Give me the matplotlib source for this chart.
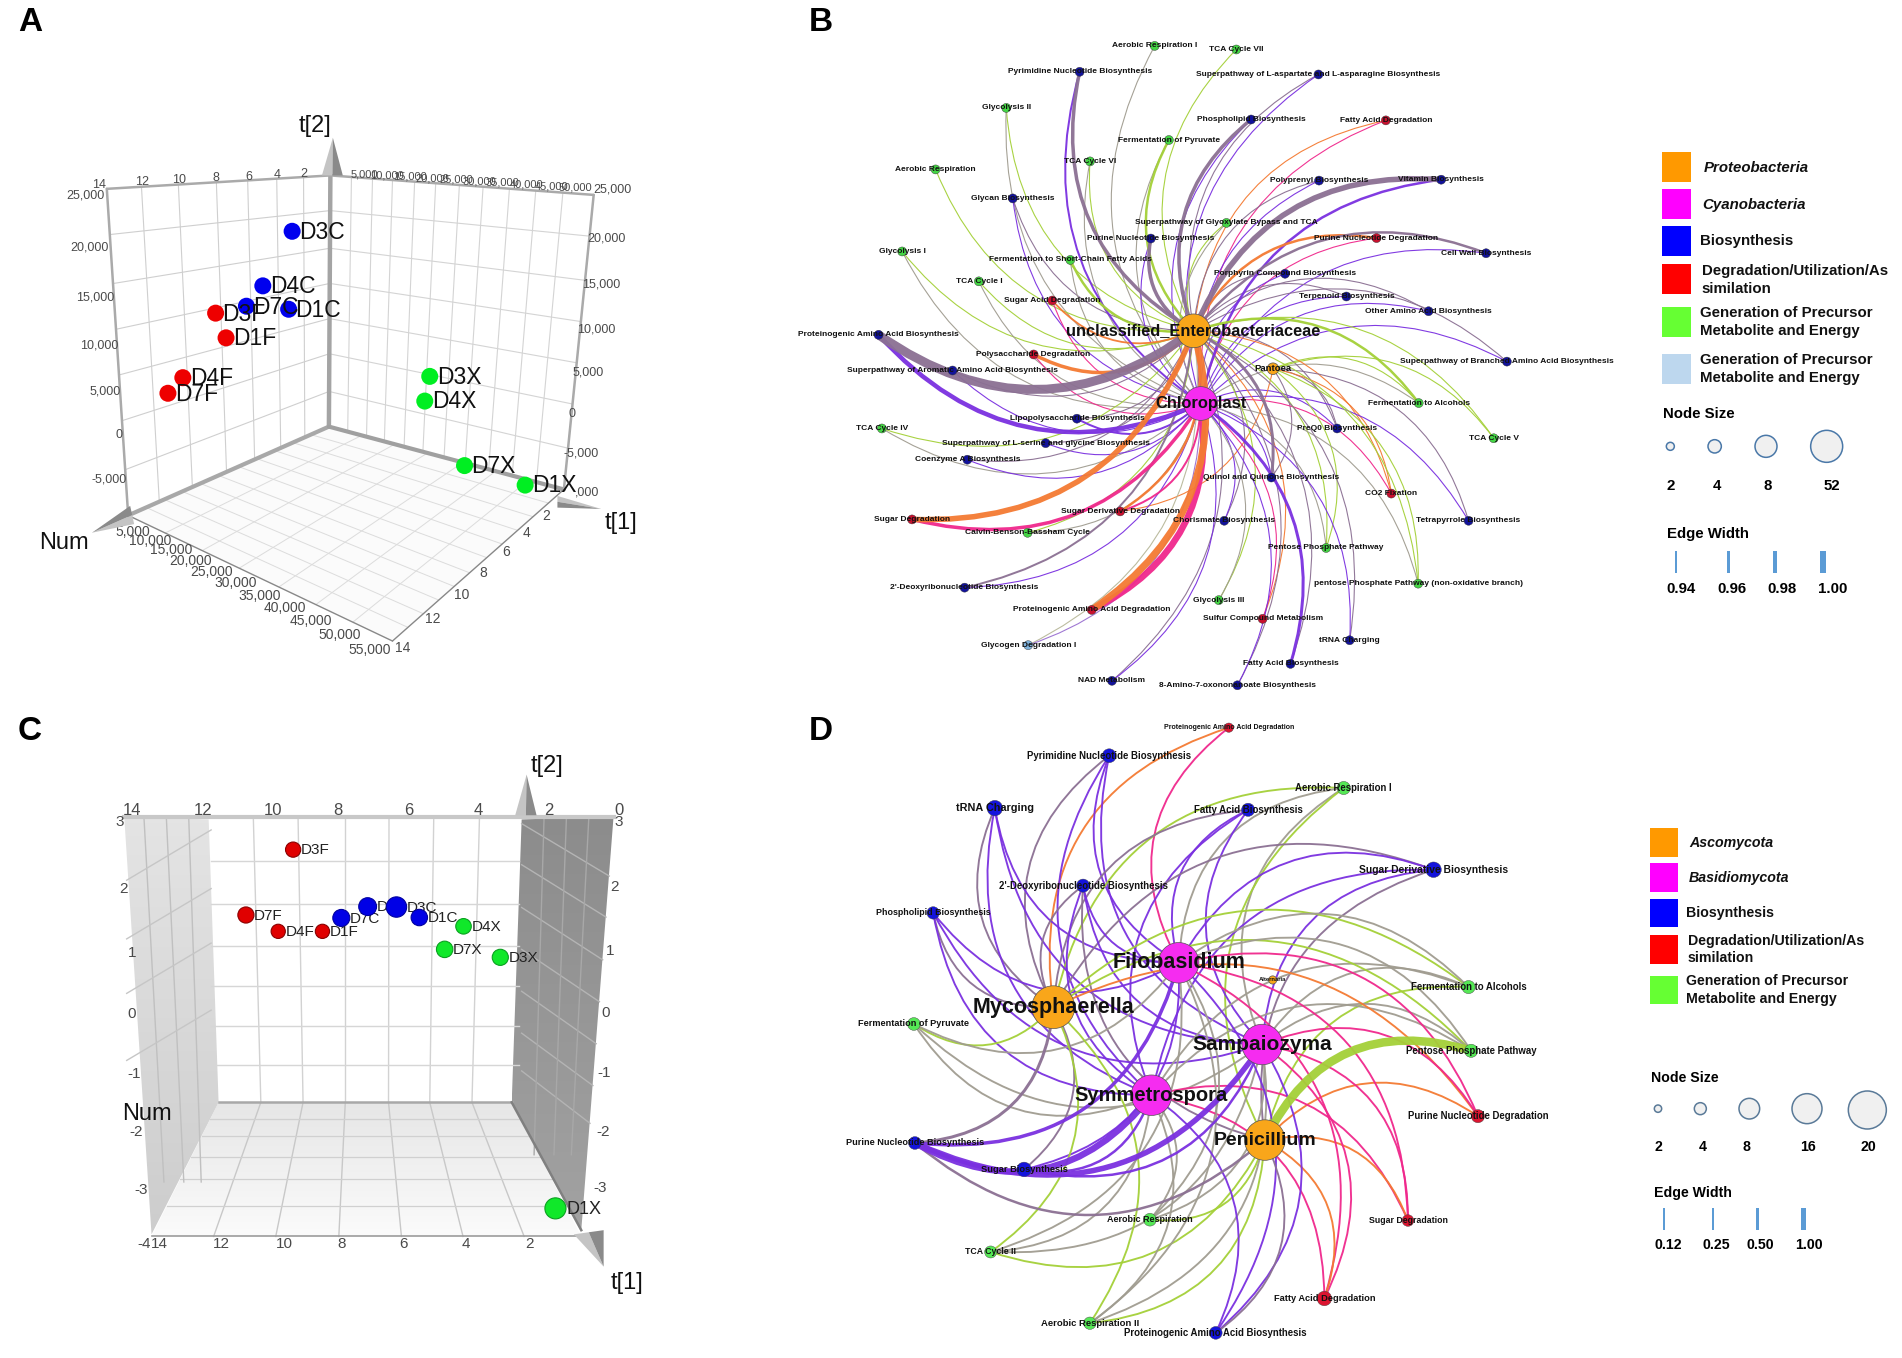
import matplotlib
matplotlib.use("Agg")
import matplotlib.pyplot as plt
import numpy as np
from matplotlib.patches import FancyArrowPatch, Polygon, Circle, Rectangle

plt.rcParams['font.family'] = ['Liberation Sans', 'DejaVu Sans']

W, H = 1902, 1358
COL = {'B': '#12129a', 'G': '#44d544', 'R': '#c8102e', 'L': '#7fb2dc', 'O': '#f9a61a', 'M': '#f52cf0'}

# ---------- score plot A ----------
a_names = ['D3C', 'D4C', 'D7C', 'D1C', 'D3F', 'D1F', 'D4F', 'D7F', 'D3X', 'D4X', 'D7X', 'D1X']
a_x = [588, 529, 496, 581, 434, 455, 368, 338, 865, 855, 935, 1057]
a_y = [534, 660, 707, 714, 723, 780, 872, 908, 869, 926, 1075, 1120]
a_col = ['#0000ee'] * 4 + ['#ee0000'] * 4 + ['#00ee22'] * 4
a_left_ticks = ['25,000', '20,000', '15,000', '10,000', '5,000', '0', '-5,000']
a_left_x = [172, 180, 192, 200, 212, 240, 220]
a_left_y = [452, 572, 688, 798, 905, 1005, 1108]
a_right_ticks = ['25,000', '20,000', '15,000', '10,000', '5,000', '0', '-5,000', ',000']
a_right_x = [1232, 1220, 1210, 1200, 1183, 1152, 1170, 1182]
a_right_y = [438, 550, 656, 760, 860, 957, 1048, 1138]
a_topl_ticks = ['14', '12', '10', '8', '6', '4', '2']
a_topl_x = [200, 285, 360, 435, 500, 558, 612]
a_topl_y = [427, 420, 416, 411, 408, 405, 402]
a_topr_ticks = ['5,000', '10,000', '15,000', '20,000', '25,000', '30,000', '35,000', '40,000', '45,000', '50,000']
a_topr_x = [733, 778, 826, 870, 918, 965, 1012, 1060, 1110, 1158]
a_topr_y = [402, 406, 408, 411, 414, 418, 421, 425, 430, 432]
a_botl_ticks = ['5,000', '10,000', '15,000', '20,000', '25,000', '30,000', '35,000', '40,000', '45,000', '50,000', '55,000']
a_botl_x = [268, 302, 345, 383, 426, 474, 522, 573, 625, 683, 745]
a_botl_y = [1228, 1249, 1270, 1296, 1320, 1346, 1375, 1403, 1433, 1465, 1500]
a_botr_ticks = ['2', '4', '6', '8', '10', '12', '14']
a_botr_x = [1100, 1060, 1018, 972, 930, 872, 810]
a_botr_y = [1192, 1230, 1274, 1322, 1373, 1430, 1495]

# ---------- score plot C ----------
c_lab = ['D3F', 'D7F', 'D4F', 'D1F', 'D7C', 'D', 'D3C', 'D1C', 'D4X', 'D7X', 'D3X', 'D1X']
c_x = [590, 495, 560, 649, 687, 740, 798, 844, 933, 895, 1007, 1118]
c_y = [357, 513, 552, 552, 520, 493, 494, 519, 540, 595, 614, 1213]
c_s = [120, 135, 105, 105, 150, 165, 215, 140, 125, 140, 135, 230]
c_col = ['#e00000'] * 4 + ['#0000e6'] * 4 + ['#10e82a'] * 4
c_edge = ['#8a0000'] * 4 + ['#0000a0'] * 4 + ['#0aa020'] * 4
c_top_ticks = ['14', '12', '10', '8', '6', '4', '2', '0']
c_top_x = [265, 408, 550, 680, 822, 962, 1105, 1245]
c_left_ticks = ['3', '2', '1', '0', '-1', '-2', '-3', '-4']
c_left_x = [240, 248, 265, 265, 270, 275, 285, 290]
c_left_y = [290, 450, 603, 750, 893, 1030, 1168, 1297]
c_right_ticks = ['3', '2', '1', '0', '-1', '-2', '-3']
c_right_x = [1245, 1237, 1228, 1220, 1217, 1213, 1208]
c_right_y = [290, 447, 600, 748, 890, 1030, 1165]
c_bot_ticks = ['14', '12', '10', '8', '6', '4', '2']
c_bot_x = [320, 445, 572, 688, 813, 938, 1065]

# ---------- network B ----------
b_hub_names = ['unclassified_Enterobacteriaceae', 'Chloroplast', 'Pantoea']
b_hub_keys = ['E', 'C', 'P']
b_hub_x = [755, 768, 900]
b_hub_y = [742, 905, 827]
b_hub_col = ['O', 'M', 'O']
b_hub_s = [590, 590, 70]
b_hub_fs = [11.8, 11.9, 6.8]
b_names = ['Aerobic Respiration I', 'TCA Cycle VII', 'Pyrimidine Nucleotide Biosynthesis',
           'Superpathway of L-aspartate and L-asparagine Biosynthesis', 'Glycolysis II',
           'Phospholipid Biosynthesis', 'Fatty Acid Degradation', 'Fermentation of Pyruvate', 'TCA Cycle VI',
           'Aerobic Respiration', 'Polyprenyl Biosynthesis', 'Vitamin Biosynthesis', 'Glycan Biosynthesis',
           'Superpathway of Glyoxylate Bypass and TCA', 'Purine Nucleotide Biosynthesis',
           'Purine Nucleotide Degradation', 'Cell Wall Biosynthesis', 'Glycolysis I',
           'Fermentation to Short-Chain Fatty Acids', 'Porphyrin Compound Biosynthesis', 'TCA Cycle I',
           'Terpenoid Biosynthesis', 'Sugar Acid Degradation', 'Other Amino Acid Biosynthesis',
           'Proteinogenic Amino Acid Biosynthesis', 'Polysaccharide Degradation',
           'Superpathway of Aromatic Amino Acid Biosynthesis', 'Superpathway of Branched Amino Acid Biosynthesis',
           'Fermentation to Alcohols', 'Lipopolysaccharide Biosynthesis', 'PreQ0 Biosynthesis', 'TCA Cycle IV',
           'TCA Cycle V', 'Superpathway of L-serine and glycine Biosynthesis', 'Coenzyme A Biosynthesis',
           'Quinol and Quinone Biosynthesis', 'CO2 Fixation', 'Sugar Degradation', 'Sugar Derivative Degradation',
           'Chorismate Biosynthesis', 'Tetrapyrrole Biosynthesis', 'Calvin-Benson-Bassham Cycle',
           'Pentose Phosphate Pathway', 'pentose Phosphate Pathway (non-oxidative branch)',
           "2'-Deoxyribonucleotide Biosynthesis", 'Proteinogenic Amino Acid Degradation', 'Glycolysis III',
           'Sulfur Compound Metabolism', 'tRNA Charging', 'Glycogen Degradation I', 'Fatty Acid Biosynthesis',
           'NAD Metabolism', '8-Amino-7-oxononanoate Biosynthesis']
b_x = [684, 833, 547, 983, 413, 860, 1106, 710, 566, 284, 984, 1207, 425, 815, 677, 1089, 1289, 223, 530, 922,
       363, 1034, 497, 1184, 180, 463, 315, 1327, 1166, 542, 1017, 186, 1303, 485, 342, 897, 1116, 241, 621, 811,
       1257, 452, 997, 1165, 337, 569, 801, 881, 1040, 453, 932, 606, 835]
b_y = [103, 111, 161, 167, 242, 268, 270, 314, 362, 380, 405, 403, 445, 500, 535, 534, 568, 564, 583, 614, 631,
       665, 674, 698, 751, 795, 831, 811, 904, 939, 961, 961, 983, 994, 1031, 1071, 1107, 1165, 1147, 1168, 1168,
       1195, 1229, 1309, 1318, 1368, 1346, 1388, 1436, 1447, 1489, 1527, 1537]
b_cat = list('GGBBGBRGGGBBBGBRBGGBGBRBBRBBGBBGGBBBRRRBBGGGBRGRBLBBB')
b_links = {'Aerobic Respiration I': 'C', 'TCA Cycle VII': 'E', 'Fatty Acid Degradation': 'EC', 'Aerobic Respiration': 'E',
           'Glycolysis II': 'EC', 'Quinol and Quinone Biosynthesis': 'ECP', 'Fermentation to Alcohols': 'ECP',
           'Sugar Derivative Degradation': 'ECP', 'CO2 Fixation': 'ECP', 'PreQ0 Biosynthesis': 'ECP',
           'pentose Phosphate Pathway (non-oxidative branch)': 'ECP', 'Pentose Phosphate Pathway': 'ECP',
           'TCA Cycle V': 'EP', 'Tetrapyrrole Biosynthesis': 'CP'}
b_thick = {('Proteinogenic Amino Acid Biosynthesis', 'E'): 9, ('Proteinogenic Amino Acid Biosynthesis', 'C'): 4.5,
           ('Sugar Degradation', 'E'): 5.5, ('Sugar Degradation', 'C'): 3.5,
           ('Proteinogenic Amino Acid Degradation', 'C'): 6.5, ('Proteinogenic Amino Acid Degradation', 'E'): 7,
           ('Vitamin Biosynthesis', 'E'): 5.5, ('Vitamin Biosynthesis', 'C'): 2.5,
           ('Pyrimidine Nucleotide Biosynthesis', 'E'): 3.5, ('Pyrimidine Nucleotide Biosynthesis', 'C'): 2,
           ('Phospholipid Biosynthesis', 'E'): 3.5, ('Fatty Acid Biosynthesis', 'C'): 3,
           ('Polysaccharide Degradation', 'E'): 3.5, ('Purine Nucleotide Biosynthesis', 'E'): 3.5,
           ('Quinol and Quinone Biosynthesis', 'E'): 3, ('Fermentation to Alcohols', 'E'): 2.5,
           ('Fermentation of Pyruvate', 'E'): 2.5, ('Cell Wall Biosynthesis', 'E'): 2.5,
           ('Purine Nucleotide Degradation', 'E'): 2.5, ("2'-Deoxyribonucleotide Biosynthesis", 'E'): 2,
           ('Sugar Derivative Degradation', 'E'): 2.5, ('Sugar Derivative Degradation', 'C'): 2,
           ('Fermentation to Short-Chain Fatty Acids', 'E'): 2.5, ('Lipopolysaccharide Biosynthesis', 'C'): 2,
           ('Sugar Acid Degradation', 'E'): 1.8}

# ---------- network D ----------
d_hub_names = ['Filobasidium', 'Mycosphaerella', 'Sampaiozyma', 'Symmetrospora', 'Penicillium', 'Alternaria']
d_hub_keys = ['F', 'M', 'S', 'Y', 'P', 'A']
d_hub_x = [725, 485, 885, 673, 890, 905]
d_hub_y = [627, 733, 822, 943, 1050, 668]
d_hub_col = ['M', 'O', 'M', 'M', 'O', 'O']
d_hub_s = [850, 950, 850, 850, 850, 35]
d_hub_fs = [15.5, 15.5, 15, 14.5, 14, 4.2]
d_names = ['Proteinogenic Amino Acid Degradation', 'Pyrimidine Nucleotide Biosynthesis', 'Aerobic Respiration I',
           'tRNA Charging', 'Fatty Acid Biosynthesis', 'Sugar Derivative Biosynthesis',
           "2'-Deoxyribonucleotide Biosynthesis", 'Phospholipid Biosynthesis', 'Fermentation to Alcohols',
           'Fermentation of Pyruvate', 'Pentose Phosphate Pathway', 'Purine Nucleotide Degradation',
           'Purine Nucleotide Biosynthesis', 'Sugar Biosynthesis', 'Sugar Degradation', 'Aerobic Respiration',
           'TCA Cycle II', 'Fatty Acid Degradation', 'Aerobic Respiration II', 'Proteinogenic Amino Acid Biosynthesis']
d_x = [821, 592, 1041, 373, 858, 1213, 542, 255, 1280, 218, 1285, 1298, 220, 429, 1164, 670, 365, 1004, 555, 796]
d_y = [66, 133, 210, 258, 262, 405, 443, 508, 685, 773, 837, 993, 1057, 1120, 1242, 1240, 1317, 1428, 1487, 1510]
d_cat = list('RBGBBBBBGGGRBBRGGRGB')
d_s = [45, 100, 90, 125, 90, 125, 90, 80, 90, 85, 90, 90, 85, 110, 70, 85, 75, 110, 80, 85]
d_fs = [5, 6.9, 6.9, 7.8, 6.9, 7.4, 6.9, 6.4, 6.9, 6.6, 6.9, 6.9, 6.6, 6.7, 6.3, 6.5, 6.3, 6.7, 6.8, 6.9]
d_links = {'Proteinogenic Amino Acid Degradation': 'FM', 'Pyrimidine Nucleotide Biosynthesis': 'FMYS',
           'Aerobic Respiration I': 'MFSP', 'tRNA Charging': 'FMYS', 'Fatty Acid Biosynthesis': 'FYSM',
           'Phospholipid Biosynthesis': 'FMYS', 'Fermentation of Pyruvate': 'MFYS',
           'Purine Nucleotide Degradation': 'MFSP', 'Sugar Biosynthesis': 'FSYM', 'Sugar Degradation': 'FSYP',
           'Aerobic Respiration': 'FSYP', 'Fatty Acid Degradation': 'FSYP',
           'Proteinogenic Amino Acid Biosynthesis': 'FSYP'}
d_thick = {('Pentose Phosphate Pathway', 'P'): 8.5, ('Purine Nucleotide Biosynthesis', 'Y'): 6.5,
           ('Purine Nucleotide Biosynthesis', 'S'): 5.5, ('Purine Nucleotide Biosynthesis', 'F'): 3.5,
           ('Purine Nucleotide Biosynthesis', 'M'): 3, ('Purine Nucleotide Biosynthesis', 'P'): 2.5,
           ('Sugar Biosynthesis', 'Y'): 2.5, ('Sugar Biosynthesis', 'S'): 2.5}

# ---------- legends ----------
lb_labels = [['Proteobacteria'], ['Cyanobacteria'], ['Biosynthesis'], ['Degradation/Utilization/As', 'similation'],
             ['Generation of Precursor', 'Metabolite and Energy'], ['Generation of Precursor', 'Metabolite and Energy']]
lb_cols = ['#ff9900', '#ff00ff', '#0000ff', '#ff0000', '#66ff33', '#bdd7ee']
lb_node = ['2', '4', '8', '52']
lb_edge = ['0.94', '0.96', '0.98', '1.00']
ld_labels = [['Ascomycota'], ['Basidiomycota'], ['Biosynthesis'], ['Degradation/Utilization/As', 'similation'],
             ['Generation of Precursor', 'Metabolite and Energy']]
ld_cols = ['#ff9900', '#ff00ff', '#0000ff', '#ff0000', '#66ff33']
ld_node = ['2', '4', '8', '16', '20']
ld_edge = ['0.12', '0.25', '0.50', '1.00']

EDGE = {('O', 'B'): '#8b7093', ('O', 'R'): '#f47a32', ('O', 'G'): '#a4d038', ('O', 'L'): '#b8b89a',
        ('M', 'B'): '#7a30e0', ('M', 'R'): '#f0288c', ('M', 'G'): '#a09c90', ('M', 'L'): '#9a70d0'}

fig = plt.figure(figsize=(W / 100, H / 100), dpi=100, facecolor='white')


def panel(x, y, w, h, zw=1570, zh=1570):
    ax = fig.add_axes([x / W, 1 - (y + h) / H, w / W, h / H])
    ax.set_xlim(0, zw)
    ax.set_ylim(zh, 0)
    ax.axis('off')
    return ax


def mix(ax, c0, c1, c2, c3, u, v):
    c0, c1, c2, c3 = map(np.array, (c0, c1, c2, c3))
    return (1 - u) * (1 - v) * c0 + u * (1 - v) * c1 + u * v * c2 + (1 - u) * v * c3


def quad_grid(ax, q, us, vs, color, lw, z=1):
    for u in us:
        a, b = mix(ax, *q, u, 0), mix(ax, *q, u, 1)
        ax.plot([a[0], b[0]], [a[1], b[1]], color=color, lw=lw, zorder=z, solid_capstyle='butt')
    for v in vs:
        a, b = mix(ax, *q, 0, v), mix(ax, *q, 1, v)
        ax.plot([a[0], b[0]], [a[1], b[1]], color=color, lw=lw, zorder=z, solid_capstyle='butt')


def gradient_poly(ax, pts, c_a, c_b, horizontal=True):
    poly = Polygon(pts, closed=True, fc='none', ec='none')
    ax.add_patch(poly)
    pts = np.array(pts)
    g = np.linspace(0, 1, 64)
    g = g[None, :] if horizontal else g[:, None]
    ca, cb = matplotlib.colors.to_rgb(c_a), matplotlib.colors.to_rgb(c_b)
    img = np.stack([ca[i] + (cb[i] - ca[i]) * g for i in range(3)], axis=-1)
    im = ax.imshow(img, extent=[pts[:, 0].min(), pts[:, 0].max(), pts[:, 1].max(), pts[:, 1].min()],
                   aspect='auto', zorder=0.5)
    im.set_clip_path(poly)
    ax.set_xlim(0, 1570)
    ax.set_ylim(1570, 0)


def cone(ax, tip, b1, b2, light='#c4c4c4', dark='#8a8a8a'):
    mid = ((b1[0] + b2[0]) / 2, (b1[1] + b2[1]) / 2)
    ax.add_patch(Polygon([tip, b1, mid], fc=light, ec='none', zorder=6))
    ax.add_patch(Polygon([tip, mid, b2], fc=dark, ec='none', zorder=6))


def tick_text(ax, xs, ys, labels, fs=9, color='#4a4a4a'):
    for x, y, t in zip(xs, ys, labels):
        ax.text(x, y, t, fontsize=fs, color=color, ha='center', va='center', zorder=4)


def network(ax, hub_keys, hub_x, hub_y, hub_col, names, xs, ys, cats, links, thick, default, rad, thin):
    hx = dict(zip(hub_keys, hub_x))
    hy = dict(zip(hub_keys, hub_y))
    hc = dict(zip(hub_keys, hub_col))
    order = []
    for n, x, y, c in zip(names, xs, ys, cats):
        for k in links.get(n, default):
            order.append((thick.get((n, k), thin), n, x, y, c, k))
    order.sort(key=lambda t: t[0])
    for lw, n, x, y, c, k in order:
        ax.add_patch(FancyArrowPatch((x, y), (hx[k], hy[k]), arrowstyle='-', shrinkA=0, shrinkB=0,
                                     connectionstyle=f'arc3,rad={rad}', lw=lw * 0.72,
                                     color=EDGE[(hc[k], c)], zorder=2, alpha=0.95))


def legend(ax, labels, cols, sq_x, sq_w, sq_y, sq_h, txt_x, txt_y, fs, line_gap):
    for lab, c, y0, tx, ty in zip(labels, cols, sq_y, txt_x, txt_y):
        ax.add_patch(Rectangle((sq_x, y0), sq_w, sq_h, fc=c, ec='none'))
        ital = lab[0] in ('Proteobacteria', 'Cyanobacteria', 'Ascomycota', 'Basidiomycota')
        for i, t in enumerate(lab):
            ax.text(tx, ty + i * line_gap, t, fontsize=fs, fontweight='bold', va='center', ha='left',
                    color='#111111', style='italic' if ital else 'normal')


# ================= A =================
axA = panel(0, 0, 780, 680)
LT, BT, RT, BB, LB, RB, FR = (215, 436), (665, 405), (1195, 450), (662, 985), (258, 1190), (1135, 1130), (790, 1480)
quad_grid(axA, (LT, BT, BB, LB), [.155, .32, .49, .63, .76, .88], [.14, .29, .43, .57, .71, .86], '#cfcfcf', .8)
quad_grid(axA, (BT, RT, RB, BB), [.08, .16, .236, .32, .40, .49, .58, .68, .78, .883],
          [.14, .29, .43, .57, .71, .86], '#d4d4d4', .8)
axA.add_patch(Polygon([BB, RB, FR, LB], fc='#fbfbfb', ec='none', zorder=0.5))
quad_grid(axA, (BB, RB, FR, LB), [.14, .28, .42, .57, .71, .85], [.09, .18, .27, .36, .45, .55, .64, .73, .82, .91],
          '#dcdcdc', .7)
for p, q, lw, c in [(BT, BB, 3.2, '#a4a4a4'), (BB, LB, 3, '#a8a8a8'), (BB, RB, 3, '#a0a0a0'), (LT, BT, 1.8, '#aaaaaa'),
                    (BT, RT, 1.8, '#aaaaaa'), (LT, LB, 1.8, '#aaaaaa'), (RT, RB, 1.8, '#aaaaaa'), (LB, FR, 1, '#888888'),
                    (RB, FR, 1, '#888888')]:
    axA.plot([p[0], q[0]], [p[1], q[1]], color=c, lw=lw, zorder=3, solid_capstyle='round')
cone(axA, (670, 318), (648, 405), (690, 405))
cone(axA, (185, 1230), (270, 1210), (262, 1168))
cone(axA, (1210, 1175), (1122, 1145), (1122, 1172))
tick_text(axA, a_left_x, a_left_y, a_left_ticks)
tick_text(axA, a_right_x, a_right_y, a_right_ticks)
tick_text(axA, a_topl_x, a_topl_y, a_topl_ticks)
tick_text(axA, a_topr_x, a_topr_y, a_topr_ticks, fs=8)
tick_text(axA, a_botl_x, a_botl_y, a_botl_ticks, fs=10)
tick_text(axA, a_botr_x, a_botr_y, a_botr_ticks, fs=10)
axA.scatter(a_x, a_y, s=150, c=a_col, zorder=7, linewidths=0)
for x, y, t in zip(a_x, a_y, a_names):
    axA.text(x + 14, y + 2, t, fontsize=16.5, ha='left', va='center', color='#111111', zorder=8)
axA.text(128, 1253, 'Num', fontsize=17, ha='center', va='center', color='#111111', zorder=8)
axA.text(1250, 1207, 't[1]', fontsize=17, ha='center', va='center', color='#111111', zorder=8)
axA.text(635, 292, 't[2]', fontsize=17, ha='center', va='center', color='#111111', zorder=8)
axA.text(60, 52, 'A', fontsize=24, fontweight='bold', ha='center', va='center')

# ================= C =================
axC = panel(0, 700, 780, 658)
BL_t, BR_t, BR_b, BL_b = (420, 285), (1050, 285), (1030, 960), (440, 960)
gradient_poly(axC, [BL_b, BR_b, (1170, 1280), (305, 1280)], '#e6e6e6', '#fbfbfb', horizontal=False)
gradient_poly(axC, [(250, 278), BL_t, BL_b, (305, 1275)], '#e4e4e4', '#cdcdcd', horizontal=False)
gradient_poly(axC, [BR_t, (1235, 278), (1170, 1265), BR_b], '#8c8c8c', '#a2a2a2', horizontal=False)
# back wall, floor and side wall grids
back_v_top = [510, 600, 695, 783, 873, 965]
back_v_bot = [525, 610, 695, 782, 865, 950]
back_h = [385, 487, 587, 683, 778, 872]
floor_v_bot = [430, 555, 682, 808, 932, 1055]
floor_h = [1000, 1040, 1090, 1143, 1208]
for a, b, c in zip(back_v_top, back_v_bot, floor_v_bot):
    axC.plot([a, b], [285, 960], color='#d2d2d2', lw=1, zorder=1)
    axC.plot([b, c], [960, 1280], color='#c8c8c8', lw=1, zorder=1)
for y in back_h:
    axC.plot([425, 1045], [y, y], color='#d6d6d6', lw=1, zorder=1)
for y in floor_h:
    axC.plot([1030 + (y - 960) * .44, 440 - (y - 960) * .42], [y, y], color='#d0d0d0', lw=.9, zorder=1)
for y0 in [290, 388, 490, 590, 690, 790, 880]:
    axC.plot([1235 - (1235 - 1170) * (y0 - 278) / 990 - 8, 1050], [y0 + 130, y0 + 5], color='#b4b4b4', lw=1, zorder=1)
for x0, x1 in zip([1095, 1140, 1185], [1075, 1115, 1150]):
    axC.plot([x0, x1], [285, 1085], color='#a8a8a8', lw=1, zorder=1)
for x0, x1 in zip([290, 335, 380], [330, 370, 405]):
    axC.plot([x0, x1], [285, 1150], color='#c0c0c0', lw=1, zorder=1)
for y in [430, 570, 700, 860]:
    axC.plot([255, 425], [y, y - 120], color='#c6c6c6', lw=1, zorder=1)
axC.plot([250, 1235], [278, 278], color='#c8c8c8', lw=3, zorder=3)
axC.plot([440, 1030], [960, 960], color='#a8a8a8', lw=1.8, zorder=3)
axC.plot([305, 1170], [1280, 1280], color='#9c9c9c', lw=1.2, zorder=3)
axC.plot([1030, 1170], [960, 1265], color='#808080', lw=1.8, zorder=3)
cone(axC, (1060, 178), (1037, 275), (1080, 275))
cone(axC, (1215, 1352), (1155, 1275), (1215, 1265))
tick_text(axC, c_top_x, [263] * len(c_top_x), c_top_ticks, fs=12)
tick_text(axC, c_left_x, c_left_y, c_left_ticks, fs=11)
tick_text(axC, c_right_x, c_right_y, c_right_ticks, fs=11)
tick_text(axC, c_bot_x, [1297] * len(c_bot_x), c_bot_ticks, fs=11)
axC.scatter(c_x, c_y, s=c_s, c=c_col, zorder=7, linewidths=.8, edgecolors=c_edge)
for x, y, t, s in zip(c_x, c_y, c_lab, c_s):
    axC.text(x + np.sqrt(s) * 1.42, y + 2, t, fontsize=13 if t == 'D1X' else 11, ha='left', va='center',
             color='#222222', zorder=6)
axC.text(296, 987, 'Num', fontsize=17, ha='center', va='center', color='#111111', zorder=8)
axC.text(1262, 1390, 't[1]', fontsize=17, ha='center', va='center', color='#111111', zorder=8)
axC.text(1102, 158, 't[2]', fontsize=17, ha='center', va='center', color='#111111', zorder=8)
axC.text(60, 75, 'C', fontsize=24, fontweight='bold', ha='center', va='center')

# ================= B =================
axB = panel(780, 0, 860, 700)
network(axB, b_hub_keys, b_hub_x, b_hub_y, b_hub_col, b_names, b_x, b_y, b_cat, b_links, b_thick, 'EC', .36, 1.1)
axB.scatter(b_x, b_y, s=42, c=[COL[c] for c in b_cat], zorder=4, linewidths=.3, edgecolors='#333333')
axB.scatter(b_hub_x, b_hub_y, s=b_hub_s, c=[COL[c] for c in b_hub_col], zorder=4, linewidths=.5, edgecolors='#555555')
for x, y, t in zip(b_x, b_y, b_names):
    axB.text(x, y, t, fontsize=6, fontweight='bold', ha='center', va='center', color='#111111', zorder=5)
for x, y, t, f in zip(b_hub_x, b_hub_y, b_hub_names, b_hub_fs):
    axB.text(x, y, t, fontsize=f, fontweight='bold', ha='center', va='center', color='#111111', zorder=5)
axB.text(75, 50, 'B', fontsize=24, fontweight='bold', ha='center', va='center')

# ================= D =================
axD = panel(800, 700, 820, 658)
network(axD, d_hub_keys, d_hub_x, d_hub_y, d_hub_col, d_names, d_x, d_y, d_cat, d_links, d_thick, 'MFSYP', .42, 1.9)
dcol = {'B': '#1414dc', 'G': '#55e855', 'R': '#dc1430'}
axD.scatter(d_x, d_y, s=d_s, c=[dcol[c] for c in d_cat], zorder=4, linewidths=.3, edgecolors='#444444')
axD.scatter(d_hub_x, d_hub_y, s=d_hub_s, c=[COL[c] for c in d_hub_col], zorder=4, linewidths=.5, edgecolors='#555555')
for x, y, t, f in zip(d_x, d_y, d_names, d_fs):
    axD.text(x, y, t, fontsize=f, fontweight='bold', ha='center', va='center', color='#111111', zorder=5)
for x, y, t, f in zip(d_hub_x, d_hub_y, d_hub_names, d_hub_fs):
    axD.text(x, y, t, fontsize=f, fontweight='bold', ha='center', va='center', color='#111111', zorder=5)
axD.text(40, 75, 'D', fontsize=24, fontweight='bold', ha='center', va='center')

# ================= legends =================
axLB = panel(1620, 120, 282, 500, 846, 1500)
legend(axLB, lb_labels, lb_cols, 127, 87, [96, 208, 318, 433, 560, 702], 90,
       [250, 247, 240, 245, 240, 240], [143, 255, 362, 452, 578, 720], 10.8, 55)
axLB.text(128, 882, 'Node Size', fontsize=10.8, fontweight='bold', va='center')
for x, r in zip([151, 284, 438, 620], [12, 20, 33, 48]):
    axLB.add_patch(Circle((x, 979), r, fc='#f0f0f0', ec='#4a78a8', lw=1.1))
for x, t in zip([151, 291, 443, 636], lb_node):
    axLB.text(x, 1098, t, fontsize=10.8, fontweight='bold', ha='center', va='center')
axLB.text(140, 1243, 'Edge Width', fontsize=10.8, fontweight='bold', va='center')
for x, w in zip([168, 325, 464, 609], [6, 8, 11, 16]):
    axLB.add_patch(Rectangle((x - w / 2, 1292), w, 68, fc='#5b9bd5', ec='none'))
for x, t in zip([183, 335, 486, 638], lb_edge):
    axLB.text(x, 1407, t, fontsize=10.8, fontweight='bold', ha='center', va='center')

axLD = panel(1620, 800, 282, 480, 846, 1440)
legend(axLD, ld_labels, ld_cols, 89, 85, [84, 190, 296, 405, 527], 86,
       [208, 205, 198, 204, 198], [128, 235, 338, 423, 544], 10.2, 52)
axLD.text(92, 833, 'Node Size', fontsize=10.2, fontweight='bold', va='center')
for x, y, r in zip([114, 241, 388, 561, 742], [926, 926, 926, 926, 930], [11, 18, 31, 45, 57]):
    axLD.add_patch(Circle((x, y), r, fc='#f0f0f0', ec='#5a7a98', lw=1.1))
for x, t in zip([114, 247, 380, 564, 744], ld_node):
    axLD.text(x, 1040, t, fontsize=10.2, fontweight='bold', ha='center', va='center')
axLD.text(103, 1178, 'Edge Width', fontsize=10.2, fontweight='bold', va='center')
for x, w in zip([131, 278, 412, 551], [5, 7, 9, 15]):
    axLD.add_patch(Rectangle((x - w / 2, 1225), w, 65, fc='#5b9bd5', ec='none'))
for x, t in zip([145, 289, 421, 566], ld_edge):
    axLD.text(x, 1335, t, fontsize=10.2, fontweight='bold', ha='center', va='center')

fig.savefig('out.png', dpi=100, facecolor='white')
